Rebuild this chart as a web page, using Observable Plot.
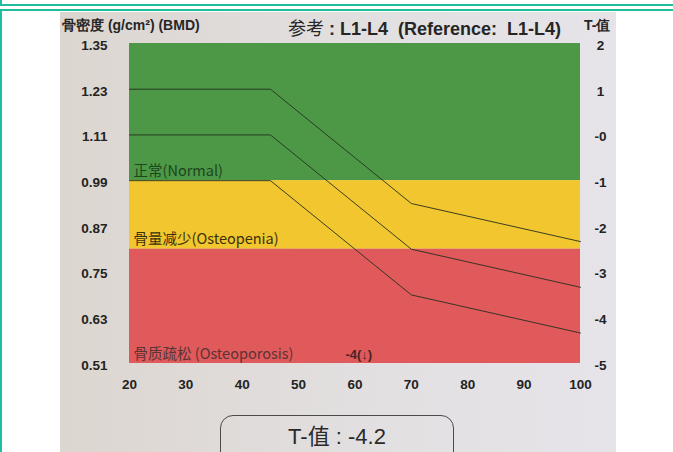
<!DOCTYPE html>
<html><head><meta charset="utf-8">
<script src="https://cdn.jsdelivr.net/npm/d3@7"></script>
<script src="https://cdn.jsdelivr.net/npm/@observablehq/plot@0.6"></script>
<style>
body{margin:0;width:673px;height:452px;overflow:hidden;position:relative;background:#fff;font-family:"Liberation Sans",Arial,sans-serif;}
.f1{position:absolute;left:0;top:0;width:700px;height:4px;border-bottom:2px solid #1fbe9e;border-left:2px solid #1fbe9e;}
.f2{position:absolute;left:0;top:9px;width:700px;height:500px;border-top:2px solid #1fbe9e;border-left:2px solid #1fbe9e;}
.photo{position:absolute;left:60px;top:12px;width:556px;height:440px;background:linear-gradient(to right,#dcd6d0,#e3e0e2 60%,#e6e4e9);overflow:hidden;}
.t{position:absolute;white-space:nowrap;color:#262626;line-height:1;}
#plot{position:absolute;left:0;top:0;}
.box{position:absolute;left:160px;top:403px;width:234px;height:70px;border:1.5px solid #4a4a4a;border-radius:13px;box-sizing:border-box;}
.boxt{position:absolute;left:160px;top:413px;width:234px;height:24px;line-height:24px;text-align:center;font-size:22px;color:#2a2a2a;font-family:"Liberation Sans","Noto Sans CJK SC",sans-serif;}
</style></head>
<body>
<div class="f1"></div><div class="f2"></div>
<div class="photo">
  <div id="plot"></div>
  <div class="t" style="left:2px;top:6px;font-size:14px;font-weight:bold;">骨密度 (g/cm²) (BMD)</div>
  <div class="t" style="left:228px;top:6px;font-size:18px;font-weight:bold;"><span style="font-family:'Noto Sans CJK SC';font-weight:normal;">参考</span> : L1-L4&nbsp; (Reference:&nbsp; L1-L4)</div>
  <div class="t" style="left:524px;top:6px;font-size:14px;font-weight:bold;">T-值</div>
  <div class="box"></div>
  <div class="boxt">T-值 : -4.2</div>
</div>
<script>
const ages = [20, 45, 70, 100];
const upperSD = [1.23, 1.23, 0.93, 0.83];
const meanBMD = [1.11, 1.11, 0.81, 0.71];
const lowerSD = [0.99, 0.99, 0.69, 0.59];

const bmdTicks = [1.35, 1.23, 1.11, 0.99, 0.87, 0.75, 0.63, 0.51];
const tTicks = ["2", "1", "-0", "-1", "-2", "-3", "-4", "-5"];
const ageTicks = [20, 30, 40, 50, 60, 70, 80, 90, 100];

const bandNames = ["正常(Normal)", "骨量减少(Osteopenia)", "骨质疏松 (Osteoporosis)"];
const bandLow = [0.99, 0.81, 0.51];
const bandHigh = [1.35, 0.99, 0.81];
const bandColors = ["#4c9847", "#f1c62e", "#e0595b"];
const bandLabelBMD = [1.014, 0.836, 0.534];
const bandLabelColors = ["#1d461b", "#3b300c", "#5a3434"];

const noteText = ["-4(↓)"];
const noteAge = [58.3];
const noteBMD = [0.534];

const bands = bandNames.map((n, i) => ({name: n, low: bandLow[i], high: bandHigh[i], color: bandColors[i], ly: bandLabelBMD[i], lc: bandLabelColors[i]}));
const seriesNames = ["+1SD", "mean", "-1SD"];
const seriesVals = [upperSD, meanBMD, lowerSD];
const lines = seriesNames.flatMap((s, j) => ages.map((a, i) => ({series: s, age: a, bmd: seriesVals[j][i]})));
const notes = noteText.map((t, i) => ({t, x: noteAge[i], y: noteBMD[i]}));

const xMin = ageTicks[0], xMax = ageTicks[ageTicks.length - 1];

const chart = Plot.plot({
  width: 556, height: 440,
  marginLeft: 69, marginRight: 36, marginTop: 31, marginBottom: 89,
  style: {background: "transparent", fontFamily: "'Liberation Sans', Arial, sans-serif", overflow: "visible"},
  x: {domain: [xMin, xMax], label: null},
  y: {domain: [bmdTicks[bmdTicks.length - 1], bmdTicks[0]], label: null},
  color: {type: "identity"},
  marks: [
    Plot.rectY(bands, {x1: () => xMin, x2: () => xMax, y1: "low", y2: "high", fill: "color"}),
    Plot.line(lines, {x: "age", y: "bmd", z: "series", stroke: "#27301f", strokeWidth: 1, strokeOpacity: 0.9}),
    Plot.text(bands, {x: () => xMin, y: "ly", text: "name", textAnchor: "start", dx: 4, fill: "lc", fontSize: 14.5, letterSpacing: 0.3, fontFamily: "'Noto Sans CJK SC', 'Noto Sans', sans-serif"}),
    Plot.text(notes, {x: "x", y: "y", text: "t", textAnchor: "start", fill: "#4a2424", fontSize: 13, fontWeight: "bold"}),
    Plot.axisY(bmdTicks, {anchor: "left", tickSize: 0, tickPadding: 22, tickFormat: d3.format(".2f"), fontWeight: "bold", fontSize: 13.5, fill: "#232323", dy: 2}),
    Plot.axisY(bmdTicks, {anchor: "right", tickSize: 0, tickPadding: 20, textAnchor: "middle", tickFormat: d => tTicks[bmdTicks.indexOf(d)], fontWeight: "bold", fontSize: 13.5, fill: "#232323", dy: 2}),
    Plot.axisX(ageTicks, {anchor: "bottom", tickSize: 0, tickPadding: 16, fontWeight: "bold", fontSize: 13.5, fill: "#232323"})
  ]
});
document.getElementById("plot").appendChild(chart);
</script>
</body></html>
